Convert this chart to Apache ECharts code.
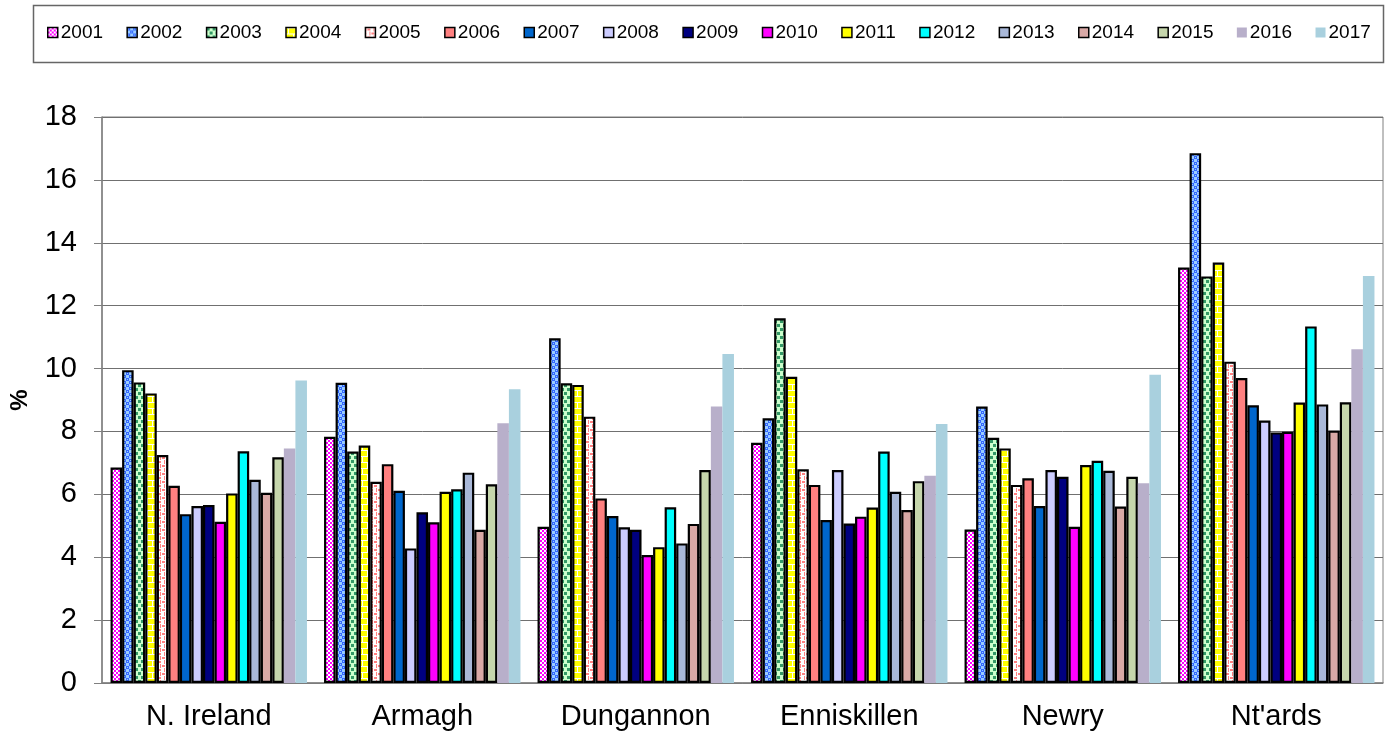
<!DOCTYPE html>
<html>
<head>
<meta charset="utf-8">
<title>Rate by area, 2001-2017</title>
<script src="https://cdn.jsdelivr.net/npm/echarts@6/dist/echarts.min.js"></script>
<style>
  html, body { margin: 0; padding: 0; background: #ffffff; }
  #chart { width: 1386px; height: 740px; }
</style>
</head>
<body>
<div id="chart"></div>
<script>
// Areas along the category axis
const areas = ['N. Ireland', 'Armagh', 'Dungannon', 'Enniskillen', 'Newry', "Nt'ards"];

// One series per year
const years = ['2001', '2002', '2003', '2004', '2005', '2006', '2007', '2008', '2009',
               '2010', '2011', '2012', '2013', '2014', '2015', '2016', '2017'];

// Values (%) per year, in the order of `areas`
const v2001 = [6.85, 7.83, 4.97, 7.64, 4.88, 13.21];
const v2002 = [9.95, 9.55, 10.96, 8.42, 8.79, 16.85];
const v2003 = [9.56, 7.36, 9.53, 11.60, 7.80, 12.93];
const v2004 = [9.21, 7.55, 9.48, 9.74, 7.46, 13.37];
const v2005 = [7.25, 6.40, 8.47, 6.80, 6.30, 10.22];
const v2006 = [6.27, 6.96, 5.87, 6.30, 6.51, 9.70];
const v2007 = [5.37, 6.11, 5.31, 5.18, 5.63, 8.83];
const v2008 = [5.63, 4.28, 4.95, 6.77, 6.77, 8.35];
const v2009 = [5.66, 5.43, 4.87, 5.07, 6.56, 7.97];
const v2010 = [5.13, 5.11, 4.07, 5.29, 4.97, 7.99];
const v2011 = [6.03, 6.08, 4.32, 5.58, 6.93, 8.92];
const v2012 = [7.37, 6.16, 5.59, 7.36, 7.07, 11.34];
const v2013 = [6.46, 6.69, 4.44, 6.08, 6.75, 8.86];
const v2014 = [6.05, 4.87, 5.06, 5.50, 5.61, 8.03];
const v2015 = [7.18, 6.32, 6.77, 6.42, 6.56, 8.93];
const v2016 = [7.46, 8.26, 8.79, 6.59, 6.35, 10.61];
const v2017 = [9.62, 9.34, 10.46, 8.24, 9.80, 12.94];

// Y axis ticks
const yTicks = [0, 2, 4, 6, 8, 10, 12, 14, 16, 18];

const yearValues = [v2001, v2002, v2003, v2004, v2005, v2006, v2007, v2008, v2009,
                    v2010, v2011, v2012, v2013, v2014, v2015, v2016, v2017];

// Small repeating tiles used as hatched fills
function tile(w, h, draw) {
  const c = document.createElement('canvas');
  c.width = w; c.height = h;
  draw(c.getContext('2d'));
  return { image: c, repeat: 'repeat' };
}

// fine magenta checkerboard
const fill2001 = tile(4, 4, g => {
  g.fillStyle = '#ffffff'; g.fillRect(0, 0, 4, 4);
  g.fillStyle = '#ff00ff'; g.fillRect(0, 0, 2, 2); g.fillRect(2, 2, 2, 2);
  g.fillRect(1, 0, 1, 1);
});
// blue / light blue weave
const fill2002 = tile(6, 6, g => {
  g.fillStyle = '#99ccff'; g.fillRect(0, 0, 6, 6);
  g.fillStyle = '#3366ff';
  g.fillRect(0, 0, 3, 3); g.fillRect(3, 3, 3, 3);
  g.fillStyle = '#99ccff';
  g.fillRect(1, 1, 1, 1); g.fillRect(4, 4, 1, 1);
});
// green confetti on pale green
const fill2003 = tile(6, 8, g => {
  g.fillStyle = '#ccffcc'; g.fillRect(0, 0, 6, 8);
  g.fillStyle = '#339966';
  g.fillRect(0, 0, 3, 3); g.fillRect(3, 4, 3, 3);
});
// yellow bricks with white mortar
const fill2004 = tile(10, 12, g => {
  g.fillStyle = '#ffff00'; g.fillRect(0, 0, 10, 12);
  g.fillStyle = '#ffffff';
  g.fillRect(0, 0, 10, 1); g.fillRect(0, 6, 10, 1);
  g.fillRect(2, 0, 1, 6); g.fillRect(7, 6, 1, 6);
});
// salmon dashes on white
const fill2005 = tile(8, 8, g => {
  g.fillStyle = '#ffffff'; g.fillRect(0, 0, 8, 8);
  g.fillStyle = '#ff8080';
  g.fillRect(0, 0, 1, 4); g.fillRect(4, 4, 1, 4);
  g.fillRect(2, 1, 3, 2); g.fillRect(6, 5, 2, 2); g.fillRect(0, 5, 1, 2);
});

// Fill per year; the last two years have no outline
const fills = [fill2001, fill2002, fill2003, fill2004, fill2005,
  '#ff8080', '#0066cc', '#ccccff', '#000080', '#ff00ff', '#ffff00', '#00ffff',
  '#a9b8d8', '#d9a9a6', '#c6d6ac', '#b8afca', '#a9d0de'];
const outlined = years.map((y, i) => i < 15);

const series = years.map((y, i) => ({
  name: y,
  type: 'bar',
  data: yearValues[i],
  barGap: '0%',
  barCategoryGap: '8%',
  itemStyle: {
    color: fills[i],
    borderColor: '#000000',
    borderWidth: outlined[i] ? 2.2 : 0
  },
  emphasis: { disabled: true },
  animation: false
}));

const font = 'Liberation Sans, Arial, sans-serif';

const chart = echarts.init(document.getElementById('chart'), null, { renderer: 'canvas' });
chart.setOption({
  backgroundColor: '#ffffff',
  animation: false,
  graphic: [{
    type: 'rect',
    shape: { x: 33.5, y: 5.5, width: 1350, height: 57 },
    style: { fill: 'none', stroke: '#666666', lineWidth: 1.5 },
    z: -1
  }],
  legend: {
    data: years.map((y, i) => ({
      name: y,
      itemStyle: { borderWidth: outlined[i] ? 1.5 : 0, borderColor: '#000000' }
    })),
    orient: 'horizontal',
    left: 47,
    top: 23,
    width: 1336,
    itemWidth: 10,
    itemHeight: 10,
    itemGap: 23.4,
    icon: 'rect',
    padding: 0,
    textStyle: { fontFamily: font, fontSize: 19, color: '#000000', padding: [0, 0, 0, -2] }
  },
  grid: { left: 97, right: 3, top: 117, bottom: 57, show: true, borderColor: '#808080', borderWidth: 1 },
  xAxis: {
    type: 'category',
    data: areas,
    axisLine: { lineStyle: { color: '#808080', width: 1.5 } },
    axisTick: { length: 8, lineStyle: { color: '#808080' } },
    axisLabel: { fontFamily: font, fontSize: 29, color: '#000000', margin: 19 }
  },
  yAxis: {
    type: 'value',
    min: yTicks[0],
    max: yTicks[yTicks.length - 1],
    interval: yTicks[1] - yTicks[0],
    name: '%',
    nameLocation: 'middle',
    nameRotate: 90,
    nameGap: 70,
    nameTextStyle: { fontFamily: font, fontSize: 24, fontWeight: 'bold', color: '#000000' },
    axisLine: { show: true, lineStyle: { color: '#808080', width: 1.5 } },
    axisTick: { show: true, length: 8, lineStyle: { color: '#808080' } },
    axisLabel: { fontFamily: font, fontSize: 29, color: '#000000', margin: 25 },
    splitLine: { lineStyle: { color: '#707070', width: 1 } }
  },
  series: series
});
</script>
</body>
</html>
